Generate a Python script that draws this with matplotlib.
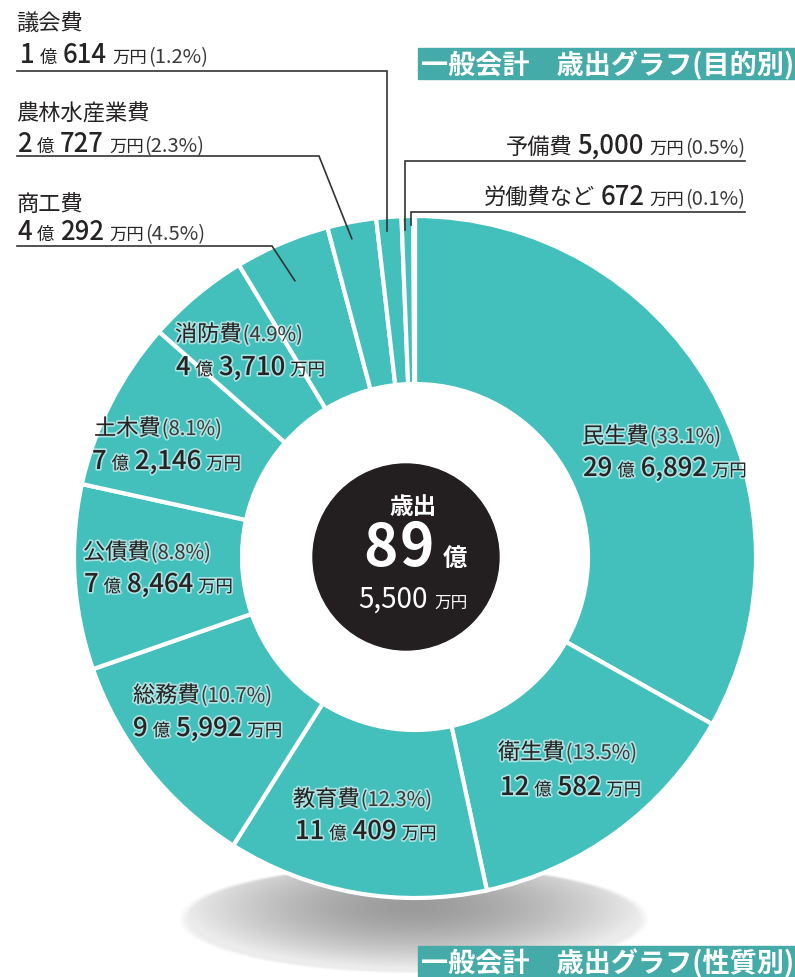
import numpy as np
import matplotlib
matplotlib.use("Agg")
import matplotlib.pyplot as plt
from matplotlib.patches import Circle, Rectangle
import matplotlib.patheffects as pe

plt.rcParams['font.family'] = ['Noto Sans CJK JP', 'DejaVu Sans']

# ---------------- data ----------------
categories = ['民生費', '衛生費', '教育費', '総務費', '公債費', '土木費', '消防費',
              '商工費', '農林水産業費', '議会費', '予備費', '労働費など']
values_man = [296892, 120582, 110409, 95992, 78464, 72146, 43710,
              40292, 20727, 10614, 5000, 672]          # 万円
percents = ['33.1', '13.5', '12.3', '10.7', '8.8', '8.1', '4.9',
            '4.5', '2.3', '1.2', '0.5', '0.1']
total_oku = 89
total_man_rest = '5,500'
title_top = '一般会計\u3000歳出グラフ(目的別)'
title_bottom = '一般会計\u3000歳出グラフ(性質別)'

TEAL = '#43bfbc'
BOX = '#45aba8'
TXT = '#262324'
PCT = '#3a3a3a'
DARK = '#231f20'

W, H = 795, 978
fig = plt.figure(figsize=(W / 100, H / 100), dpi=100)

def pix_axes(z):
    a = fig.add_axes([0, 0, 1, 1], zorder=z)
    a.set_xlim(0, W)
    a.set_ylim(H, 0)
    a.axis('off')
    a.patch.set_alpha(0)
    return a

bg = pix_axes(0)
CX, CY, R = 415, 558, 341
ax = fig.add_axes([(CX - R) / W, (H - CY - R) / H, 2 * R / W, 2 * R / H], zorder=1)
ov = pix_axes(2)

# ---------------- shadow ----------------
ecx, ecy, ea, eb = 414, 920, 236, 55
xs = np.linspace(ecx - ea, ecx + ea, 400)
ys = np.linspace(ecy - eb, ecy + eb, 120)
XX, YY = np.meshgrid(xs, ys)
d = np.sqrt(((XX - ecx) / ea) ** 2 + ((YY - ecy + 12) / (eb * 1.15)) ** 2)
g = np.clip(155 + 85 * d ** 1.6, 0, 236) / 255.0
inside = ((XX - ecx) / ea) ** 2 + ((YY - ecy) / eb) ** 2
alpha = np.clip((1 - inside) * 12, 0, 1)
img = np.dstack([g, g, g, alpha])
bg.imshow(img, extent=(ecx - ea, ecx + ea, ecy + eb, ecy - eb), interpolation='bilinear', zorder=0)
bg.set_xlim(0, W)
bg.set_ylim(H, 0)

# ---------------- donut ----------------
ax.pie(values_man, startangle=90, counterclock=False, colors=[TEAL] * len(values_man),
       radius=1.0, wedgeprops=dict(width=1 - 173 / R, edgecolor='white', linewidth=3))
ax.set_xlim(-1, 1)
ax.set_ylim(-1, 1)
ax.axis('off')
ax.add_patch(Circle((-9 / R, 0), 93 / R, color=DARK, zorder=5))

# ---------------- helpers ----------------
renderer = fig.canvas.get_renderer()

def rich(x, y, runs, ha='left', color=TXT, halo=False):
    texts, widths = [], []
    for s, size, weight, gap, col in runs:
        t = ov.text(0, y, s, fontsize=size, fontweight=weight, va='baseline', ha='left',
                    color=col or color)
        if halo:
            t.set_path_effects([pe.withStroke(linewidth=2.5, foreground='white', alpha=0.55)])
        w = t.get_window_extent(renderer=renderer).width
        texts.append(t)
        widths.append(w + gap)
    total = sum(widths)
    if ha == 'right':
        cur = x - total
    elif ha == 'center':
        cur = x - total / 2
    else:
        cur = x
    for t, w in zip(texts, widths):
        t.set_x(cur)
        cur += w

def money_runs(man, last_gap=0):
    oku, rest = divmod(man, 10000)
    runs = []
    if oku:
        runs += [(str(oku), 18.5, 'medium', 5, None), ('億', 12.5, 'normal', 6, None)]
    runs += [(f'{rest:,}', 18.5, 'medium', 5, None), ('万円', 12.5, 'normal', last_gap, None)]
    return runs

def pct_run(p):
    return (f'({p}%)', 14.5, 'normal', 0, PCT)

tot = float(sum(values_man))
cum = np.cumsum([0] + values_man)
mid_frac = (cum[:-1] + cum[1:]) / 2 / tot

def wedge_point(i, rfrac):
    th = 2 * np.pi * mid_frac[i]
    return CX + R * rfrac * np.sin(th), CY - R * rfrac * np.cos(th)

# ---------------- inside labels ----------------
inside_pos = {0: (582, 444, 583, 477), 1: (498, 760, 500, 796), 2: (293, 807, 295, 840),
              3: (133, 703, 133, 737), 4: (83, 560, 84, 593), 5: (94, 436, 92, 470),
              6: (175, 342, 176, 376)}
for i, (x1, y1, x2, y2) in inside_pos.items():
    rich(x1, y1, [(categories[i], 16, 'normal', 1, None), pct_run(percents[i])], halo=True)
    rich(x2, y2, money_runs(values_man[i]), halo=True)

# ---------------- outside labels (left) ----------------
LC = '#333333'
left_pos = {9: (16, 31, 20, 63, 72), 8: (16, 121, 17, 152, 157), 7: (16, 211, 17, 240, 247)}
elbow = {9: None, 8: 319, 7: 272}
rpt = {9: 0.96, 8: 0.95, 7: 0.88}
for i, (x1, y1, x2, y2, uy) in left_pos.items():
    rich(x1, y1, [(categories[i], 16, 'normal', 0, None)])
    rich(x2, y2, money_runs(values_man[i], last_gap=1) + [pct_run(percents[i])])
    px, py = wedge_point(i, rpt[i])
    px -= 3
    ex = px if elbow[i] is None else elbow[i]
    ov.plot([17, ex, px], [uy, uy, py], color=LC, lw=1.2, solid_joinstyle='miter')

# ---------------- outside labels (right) ----------------
right_pos = {10: (745, 154, 162), 11: (745, 205, 213)}
rpt_r = {10: 0.96, 11: 0.975}
for i, (x, y, uy) in right_pos.items():
    rich(x, y, [(categories[i], 16, 'normal', 5, None)] + money_runs(values_man[i], last_gap=1)
         + [pct_run(percents[i])], ha='right')
    px, py = wedge_point(i, rpt_r[i])
    px -= 3
    ov.plot([745, px, px], [uy, uy, py], color=LC, lw=1.2, solid_joinstyle='miter')

# ---------------- center text ----------------
rich(413, 514, [('歳出', 17, 'bold', 0, None)], ha='center', color='white')
rich(415, 566, [(str(total_oku)[0], 42, 'bold', 2, None), (str(total_oku)[1], 42, 'bold', 8, None),
                ('億', 17.5, 'bold', 0, None)], ha='center', color='white')
rich(413, 608, [(total_man_rest, 20, 'normal', 6, None), ('万円', 12, 'normal', 0, None)],
     ha='center', color='white')

# ---------------- title boxes ----------------
for (bx, by, bw, bh, text) in [(418, 49, 377, 31, title_top), (418, 947, 377, 31, title_bottom)]:
    ov.add_patch(Rectangle((bx, by), bw, bh, color=BOX, zorder=1))
    ov.text(bx + bw / 2 + 1, by + bh / 2 + 1, text, fontsize=19.5, fontweight='bold',
            color='white', ha='center', va='center', zorder=2)

fig.savefig('out.png', dpi=100)
